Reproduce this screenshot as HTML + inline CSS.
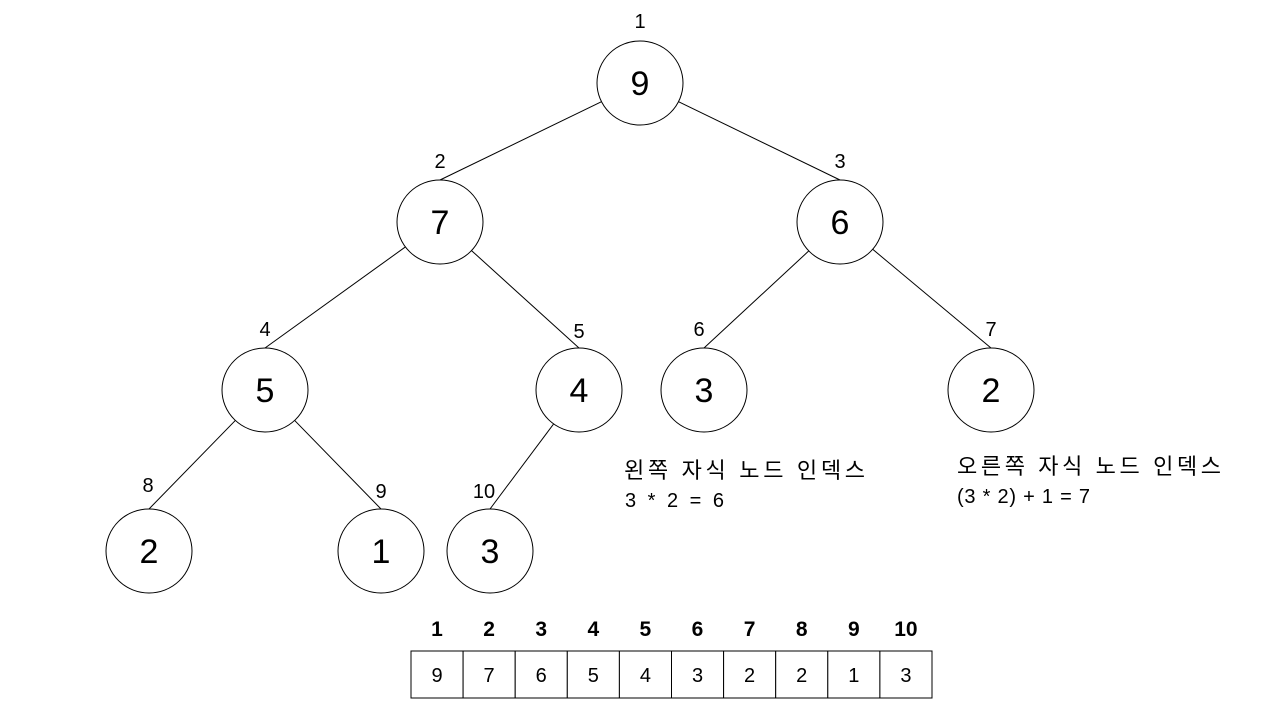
<!DOCTYPE html>
<html><head><meta charset="utf-8"><style>
html,body{margin:0;padding:0;background:#fff;}
svg{display:block;font-family:"Liberation Sans","Noto Sans CJK KR",sans-serif;}
</style></head><body>
<svg id="s" width="1280" height="720" viewBox="0 0 1280 720">
<g id="edges"></g>
<g id="nodes"></g>
<g id="tbl"></g>
<text x="624" y="478" font-size="22" textLength="241" lengthAdjust="spacing">왼쪽 자식 노드 인덱스</text>
<text x="625" y="507" font-size="20" textLength="99" lengthAdjust="spacing">3 * 2 = 6</text>
<text x="957" y="474" font-size="22" textLength="264" lengthAdjust="spacing">오른쪽 자식 노드 인덱스</text>
<text x="957" y="503" font-size="20" textLength="133" lengthAdjust="spacing">(3 * 2) + 1 = 7</text>
</svg>
<script>
const heapValues=[9,7,6,5,4,3,2,2,1,3];
const nodeX=[640,440,840,265,579,704,991,149,381,490];
const nodeY=[83,222,222,390,390,390,390,551,551,551];
const idxLabelX=[640,440,840,265,579,699,991,148,381,484];
const idxLabelY=[28,168,168,336,338,336,336,492,498,498];
const NS="http://www.w3.org/2000/svg";
function mk(t,a,p){const e=document.createElementNS(NS,t);for(const k in a)e.setAttribute(k,a[k]);p.appendChild(e);return e;}
const E=document.getElementById('edges'),N=document.getElementById('nodes'),T=document.getElementById('tbl');
const RX=43,RY=42;
for(let i=1;i<heapValues.length;i++){
  const p=Math.floor((i+1)/2)-1;
  const tx=nodeX[i],ty=nodeY[i]-RY;
  const dx=tx-nodeX[p],dy=ty-nodeY[p];
  const k=1/Math.sqrt((dx*dx)/(RX*RX)+(dy*dy)/(RY*RY));
  const l=mk('line',{x1:nodeX[p]+dx*k,y1:nodeY[p]+dy*k,x2:tx,y2:ty,stroke:'#000','stroke-width':1},E);
  
  
}
heapValues.forEach((v,i)=>{
  const c=mk('ellipse',{cx:nodeX[i],cy:nodeY[i],rx:RX,ry:RY,fill:'#fff',stroke:'#000','stroke-width':1},N);
  
  
  const t=mk('text',{x:nodeX[i],y:nodeY[i]+12,'text-anchor':'middle','font-size':34},N);
  t.textContent=v;
  
  
  const il=mk('text',{x:idxLabelX[i],y:idxLabelY[i],'text-anchor':'middle','font-size':20},N);
  il.textContent=i+1;
  
  
  const cx=411+i*52.1;
  const r=mk('rect',{x:cx,y:651,width:52.1,height:47,fill:'#fff',stroke:'#000','stroke-width':1},T);
  
  
  const tv=mk('text',{x:cx+26,y:682,'text-anchor':'middle','font-size':20},T);
  tv.textContent=v;
  
  
  const th=mk('text',{x:cx+26,y:636,'text-anchor':'middle','font-size':21,'font-weight':'bold'},T);
  th.textContent=i+1;
  
  
});
</script>
</body></html>
